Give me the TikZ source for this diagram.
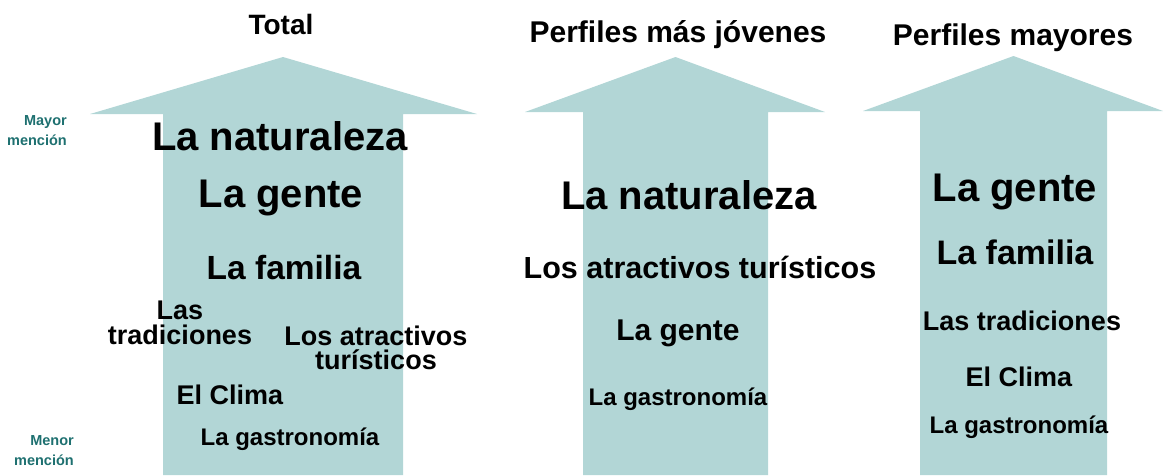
\documentclass[tikz,border=0pt]{standalone}
\usepackage{fontspec}
\setmainfont{Liberation Sans}
\definecolor{arrowfill}{RGB}{178,214,214}
\definecolor{labelteal}{RGB}{30,112,112}
\newcommand{\fs}[2]{\fontsize{#1}{#2}\selectfont}
\begin{document}
\begin{tikzpicture}[x=1pt,y=-1pt,
  bigarrow/.style={fill=arrowfill,draw=none},
  txt/.style={inner sep=0pt,font=\bfseries,text=black,align=center},
  side/.style={inner sep=0pt,font=\bfseries\fs{14.5}{20},text=labelteal,align=right}]
\useasboundingbox (0,0) rectangle (1163,475);
% arrows
\fill[bigarrow] (163,475) -- (163,114) -- (90,114) -- (283,57) -- (477,114) -- (403,114) -- (403,475) -- cycle;
\fill[bigarrow] (583,475) -- (583,112) -- (525,112) -- (675.5,57) -- (825,112) -- (768,112) -- (768,475) -- cycle;
\fill[bigarrow] (920,475) -- (920,111) -- (863,111) -- (1013.5,56) -- (1163,111) -- (1107,111) -- (1107,475) -- cycle;
% titles
\node[txt,font=\bfseries\fs{28}{30}] (t1) at (281,24) {Total};
\node[txt,font=\bfseries\fs{30}{32}] (t2) at (678,35) {Perfiles más jóvenes};
\node[txt,font=\bfseries\fs{30}{32}] (t3) at (1013,38) {Perfiles mayores};
% side labels
\node[side,anchor=east] (mayor) at (67,131) {Mayor\\mención};
\node[side,anchor=east] (menor) at (74,451) {Menor\\mención};
% column 1
\node[txt,font=\bfseries\fs{40}{42}] (a1) at (280,136) {La naturaleza};
\node[txt,font=\bfseries\fs{40}{42}] (a2) at (281,198) {La gente};
\node[txt,font=\bfseries\fs{33.5}{36}] (a3) at (284,268) {La familia};
\node[txt,font=\bfseries\fs{27}{25}] (a4) at (180,323) {Las\\tradiciones};
\node[txt,font=\bfseries\fs{27}{24.5}] (a5) at (376,348) {Los atractivos\\turísticos};
\node[txt,font=\bfseries\fs{27}{29}] (a6) at (230,395) {El Clima};
\node[txt,font=\bfseries\fs{24}{26}] (a7) at (290,439) {La gastronomía};
% column 2
\node[txt,font=\bfseries\fs{40}{42}] (b1) at (689,195) {La naturaleza};
\node[txt,font=\bfseries\fs{30.5}{32}] (b2) at (700,267) {Los atractivos turísticos};
\node[txt,font=\bfseries\fs{30}{32}] (b3) at (678,333) {La gente};
\node[txt,font=\bfseries\fs{24}{26}] (b4) at (678,399) {La gastronomía};
% column 3
\node[txt,font=\bfseries\fs{40}{42}] (c1) at (1015,192) {La gente};
\node[txt,font=\bfseries\fs{34}{36}] (c2) at (1015,252) {La familia};
\node[txt,font=\bfseries\fs{27}{29}] (c3) at (1022,321) {Las tradiciones};
\node[txt,font=\bfseries\fs{27}{29}] (c4) at (1019,377) {El Clima};
\node[txt,font=\bfseries\fs{24}{26}] (c5) at (1019,427) {La gastronomía};
\end{tikzpicture}
\end{document}
